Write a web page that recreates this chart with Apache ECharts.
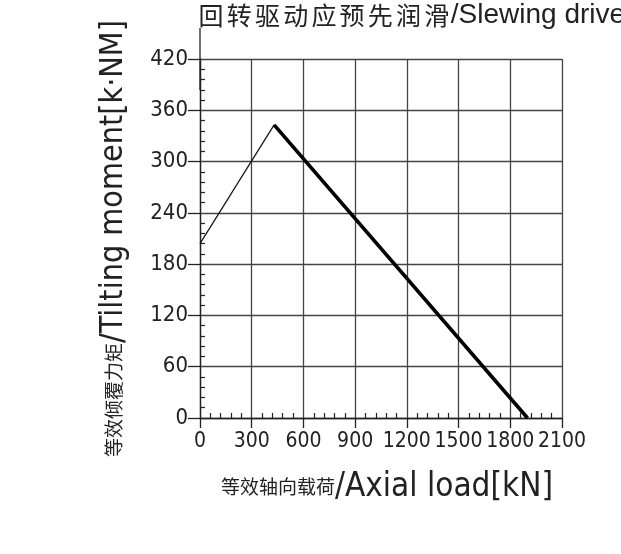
<!DOCTYPE html>
<html>
<head>
<meta charset="utf-8">
<script src="https://cdn.jsdelivr.net/npm/echarts@6/dist/echarts.min.js"></script>
<style>
html,body{margin:0;padding:0;background:#fff;}
#c{width:621px;height:554px;}
</style>
</head>
<body>
<div id="c"></div>
<script>
// Data
const xTicks = [0, 300, 600, 900, 1200, 1500, 1800, 2100];
const yTicks = [0, 60, 120, 180, 240, 300, 360, 420];
const thinX = [0, 430];
const thinY = [204, 343];
const thickX = [430, 1900];
const thickY = [343, 0];

const titleCn = '回转驱动应预先润滑';
const titleEn = '/Slewing drive should be pre-lubricated';
const xNameCn = '等效轴向载荷';
const xNameEn = '/Axial load[kN]';
const yNameCn = '等效倾覆力矩';
const yNameEn = '/Tilting moment[k·NM]';

const pairs = (xs, ys) => xs.map((x, i) => [x, ys[i]]);

const LAB = "'Liberation Sans Narrow', 'Arial Narrow', 'DejaVu Sans Condensed', 'Liberation Sans', sans-serif";
const CJK = "'Noto Sans CJK SC', sans-serif";

const titleText = titleCn.split('').map(c => '{cn|' + c + '}').join('') + '{en|' + titleEn + '}';

const chart = echarts.init(document.getElementById('c'), null, {renderer: 'canvas'});
chart.setOption({
  animation: false,
  backgroundColor: '#fff',
  title: {
    text: titleText,
    left: 192, top: -4,
    textStyle: {
      fontWeight: 'normal',
      rich: {
        cn: {fontFamily: CJK, fontSize: 25, color: '#222', fontWeight: 'normal', padding: [0, 1.6, 0, 1.6]},
        en: {fontFamily: "'Liberation Sans', sans-serif", fontSize: 28, color: '#222', fontWeight: 'normal'}
      }
    }
  },
  grid: {left: 200, right: 59, top: 59, bottom: 136, containLabel: false, outerBoundsMode: 'none'},
  xAxis: {
    type: 'value', min: xTicks[0], max: xTicks[xTicks.length - 1], interval: 300,
    name: '{cn|' + xNameCn + '}{en|' + xNameEn + '}',
    nameLocation: 'middle', nameGap: 45,
    nameTextStyle: {
      padding: [0, 0, 0, 12],
      rich: {
        cn: {fontFamily: CJK, fontSize: 19, color: '#222', lineHeight: 48},
        en: {fontFamily: LAB, fontSize: 33, color: '#222', lineHeight: 48}
      }
    },
    axisLine: {show: true, lineStyle: {color: '#222', width: 1.3}},
    axisTick: {show: true, length: 10, lineStyle: {color: '#222', width: 1.3}},
    minorTick: {show: true, splitNumber: 5, length: -5, lineStyle: {color: '#222', width: 1.2}},
    axisLabel: {margin: 13, fontFamily: LAB, fontSize: 21, color: '#222', hideOverlap: false,
      showMinLabel: true, showMaxLabel: true,
      formatter: v => String(v)},
    splitLine: {show: true, lineStyle: {color: '#444', width: 1.3}}
  },
  yAxis: {
    type: 'value', min: yTicks[0], max: yTicks[yTicks.length - 1], interval: 60,
    name: '{cn|' + yNameCn + '}{en|' + yNameEn + '}',
    nameLocation: 'middle', nameGap: 62, nameRotate: 90,
    nameTextStyle: {
      rich: {
        cn: {fontFamily: CJK, fontSize: 19, color: '#222', lineHeight: 48},
        en: {fontFamily: LAB, fontSize: 32, color: '#222', lineHeight: 48}
      }
    },
    axisLine: {show: true, symbol: ['none', 'rect'], symbolSize: [1.3, 62],
      lineStyle: {color: '#222', width: 1.3}},
    axisTick: {show: true, length: 12, lineStyle: {color: '#222', width: 1.3}},
    minorTick: {show: true, splitNumber: 5, length: -5, lineStyle: {color: '#222', width: 1.2}},
    axisLabel: {margin: 12, fontFamily: LAB, fontSize: 22, color: '#222',
      formatter: v => String(v)},
    splitLine: {show: true, lineStyle: {color: '#444', width: 1.3}}
  },
  series: [
    {type: 'line', data: pairs(thinX, thinY), symbol: 'none',
      lineStyle: {color: '#111', width: 1.2}, z: 5},
    {type: 'line', data: pairs(thickX, thickY), symbol: 'none',
      lineStyle: {color: '#000', width: 3.6}, z: 6}
  ]
});
</script>
</body>
</html>
